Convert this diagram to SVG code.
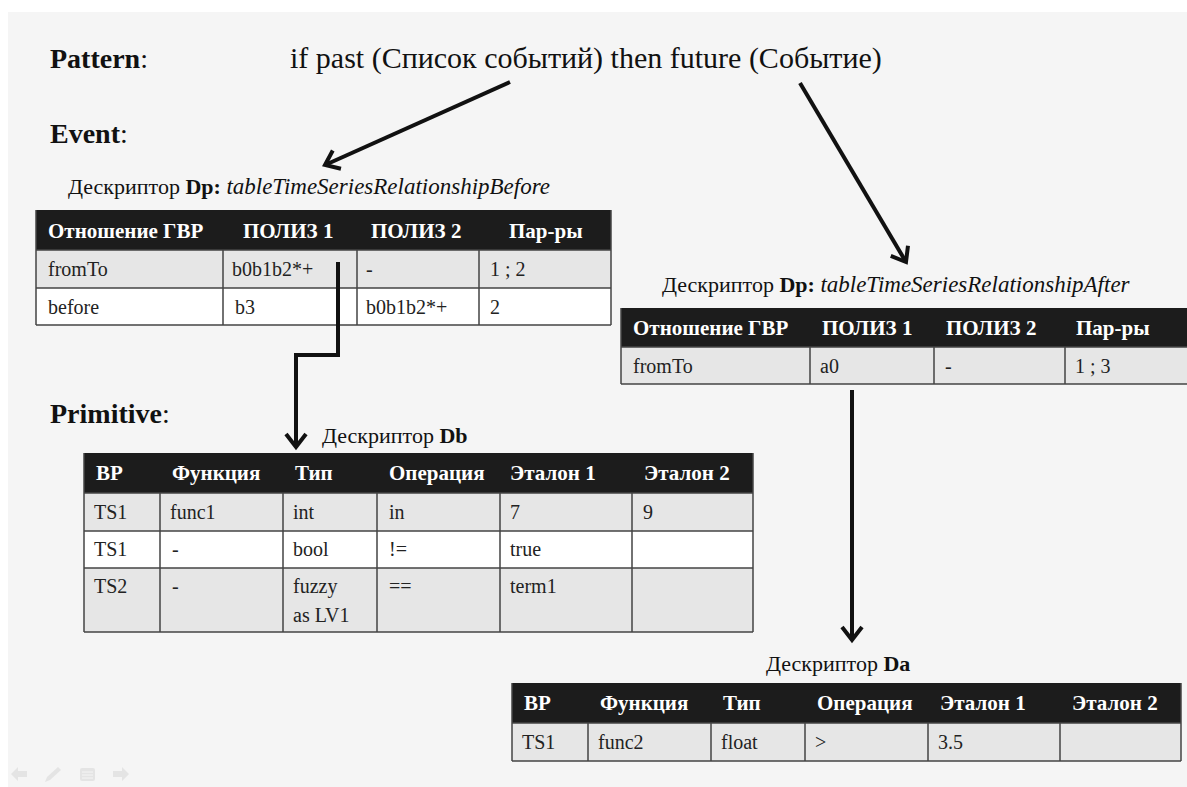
<svg xmlns="http://www.w3.org/2000/svg" width="1187" height="787" viewBox="0 0 1187 787">
  <defs>
    <style>
      text { font-family: "Liberation Serif", "Times New Roman", serif; fill: #111; }
      .title { font-size: 30px; }
      .label { font-size: 28px; }
      .desc { font-size: 22px; }
      .it { font-style: italic; font-size: 23px; }
      .th { font-size: 21px; font-weight: bold; fill: #fff; }
      .td { font-size: 20px; fill: #222; }
      .hdr { fill: #1c1c1c; }
      .gray { fill: #e6e6e6; }
      .white { fill: #ffffff; }
      .grid { stroke: #444; stroke-width: 1.5; fill: none; }
      .conn { stroke: #111; stroke-width: 4; fill: none; }
      .icon { fill: #e4e4e4; stroke: none; }
    </style>
    <marker id="chev" markerUnits="userSpaceOnUse" markerWidth="30" markerHeight="30" viewBox="-15 -15 30 30" refX="0" refY="0" orient="auto">
      <path d="M -13 -10 L 0 0 L -13 10" fill="none" stroke="#111" stroke-width="4"/>
    </marker>
  </defs>

  <!-- page background -->
  <rect x="0" y="0" width="1187" height="787" fill="#ffffff"/>
  <rect x="8" y="12" width="1179" height="775" fill="#f5f5f5"/>

  <!-- headings -->
  <g id="pattern">
    <text x="50" y="68" class="label"><tspan font-weight="bold">Pattern</tspan>:</text>
    <text x="290" y="68" class="title">if past (Список событий) then future (Событие)</text>
  </g>
  <g id="event-label">
    <text x="50" y="143" class="label"><tspan font-weight="bold">Event</tspan>:</text>
  </g>
  <g id="primitive-label">
    <text x="50" y="423" class="label"><tspan font-weight="bold">Primitive</tspan>:</text>
  </g>

  <!-- Dp before table -->
  <g id="dp-before">
    <text x="68" y="194" class="desc">Дескриптор <tspan font-weight="bold">Dp:</tspan> <tspan class="it">tableTimeSeriesRelationshipBefore</tspan></text>
    <rect x="36" y="210" width="575" height="40" class="hdr"/>
    <rect x="36" y="250" width="575" height="38" class="gray"/>
    <rect x="36" y="288" width="575" height="37" class="white"/>
    <path class="grid" d="M36 250 H611 M36 288 H611 M36 325 H611 M36 210 V325 M611 210 V325 M223 250 V325 M357 250 V325 M479 250 V325"/>
    <text x="48" y="238" class="th">Отношение ГВР</text>
    <text x="243" y="238" class="th">ПОЛИЗ 1</text>
    <text x="371" y="238" class="th">ПОЛИЗ 2</text>
    <text x="509" y="238" class="th">Пар-ры</text>
    <text x="48" y="276" class="td">fromTo</text>
    <text x="232" y="276" class="td">b0b1b2*+</text>
    <text x="366" y="276" class="td">-</text>
    <text x="490" y="276" class="td">1 ; 2</text>
    <text x="48" y="314" class="td">before</text>
    <text x="235" y="314" class="td">b3</text>
    <text x="366" y="314" class="td">b0b1b2*+</text>
    <text x="490" y="314" class="td">2</text>
  </g>

  <!-- Dp after table -->
  <g id="dp-after">
    <text x="662" y="292" class="desc">Дескриптор <tspan font-weight="bold">Dp:</tspan> <tspan class="it">tableTimeSeriesRelationshipAfter</tspan></text>
    <rect x="621" y="308" width="566" height="39" class="hdr"/>
    <rect x="621" y="347" width="566" height="37" class="gray"/>
    <path class="grid" d="M621 347 H1187 M621 384 H1187 M621 308 V384 M810 347 V384 M934 347 V384 M1065 347 V384"/>
    <text x="633" y="335" class="th">Отношение ГВР</text>
    <text x="822" y="335" class="th">ПОЛИЗ 1</text>
    <text x="946" y="335" class="th">ПОЛИЗ 2</text>
    <text x="1076" y="335" class="th">Пар-ры</text>
    <text x="633" y="373" class="td">fromTo</text>
    <text x="820" y="373" class="td">a0</text>
    <text x="945" y="373" class="td">-</text>
    <text x="1075" y="373" class="td">1 ; 3</text>
  </g>

  <!-- Db table -->
  <g id="db">
    <text x="322" y="443" class="desc">Дескриптор <tspan font-weight="bold">Db</tspan></text>
    <rect x="84" y="453" width="669" height="40" class="hdr"/>
    <rect x="84" y="493" width="669" height="38" class="gray"/>
    <rect x="84" y="531" width="669" height="37" class="white"/>
    <rect x="84" y="568" width="669" height="64" class="gray"/>
    <path class="grid" d="M84 493 H753 M84 531 H753 M84 568 H753 M84 632 H753 M84 453 V632 M753 453 V632 M160 493 V632 M283 493 V632 M377 493 V632 M500 493 V632 M632 493 V632"/>
    <text x="96" y="480" class="th">ВР</text>
    <text x="172" y="480" class="th">Функция</text>
    <text x="295" y="480" class="th">Тип</text>
    <text x="389" y="480" class="th">Операция</text>
    <text x="510" y="480" class="th">Эталон 1</text>
    <text x="644" y="480" class="th">Эталон 2</text>
    <text x="94" y="519" class="td">TS1</text>
    <text x="170" y="519" class="td">func1</text>
    <text x="293" y="519" class="td">int</text>
    <text x="389" y="519" class="td">in</text>
    <text x="510" y="519" class="td">7</text>
    <text x="643" y="519" class="td">9</text>
    <text x="94" y="556" class="td">TS1</text>
    <text x="172" y="556" class="td">-</text>
    <text x="293" y="556" class="td">bool</text>
    <text x="389" y="556" class="td">!=</text>
    <text x="510" y="556" class="td">true</text>
    <text x="94" y="593" class="td">TS2</text>
    <text x="172" y="593" class="td">-</text>
    <text x="293" y="593" class="td">fuzzy</text>
    <text x="293" y="622" class="td">as LV1</text>
    <text x="389" y="593" class="td">==</text>
    <text x="510" y="593" class="td">term1</text>
  </g>

  <!-- Da table -->
  <g id="da">
    <text x="766" y="671" class="desc">Дескриптор <tspan font-weight="bold">Da</tspan></text>
    <rect x="512" y="683" width="669" height="40" class="hdr"/>
    <rect x="512" y="723" width="669" height="38" class="gray"/>
    <path class="grid" d="M512 723 H1181 M512 761 H1181 M512 683 V761 M1181 683 V761 M588 723 V761 M711 723 V761 M805 723 V761 M928 723 V761 M1060 723 V761"/>
    <text x="524" y="710" class="th">ВР</text>
    <text x="600" y="710" class="th">Функция</text>
    <text x="723" y="710" class="th">Тип</text>
    <text x="817" y="710" class="th">Операция</text>
    <text x="940" y="710" class="th">Эталон 1</text>
    <text x="1072" y="710" class="th">Эталон 2</text>
    <text x="522" y="749" class="td">TS1</text>
    <text x="598" y="749" class="td">func2</text>
    <text x="721" y="749" class="td">float</text>
    <text x="815" y="749" class="td">&gt;</text>
    <text x="938" y="749" class="td">3.5</text>
  </g>

  <!-- connectors -->
  <g id="connectors">
    <line class="conn" x1="510" y1="82" x2="325" y2="165" marker-end="url(#chev)"/>
    <line class="conn" x1="800" y1="83" x2="906" y2="262" marker-end="url(#chev)"/>
    <polyline class="conn" points="338,262 338,355 296,355 296,447" marker-end="url(#chev)"/>
    <line class="conn" x1="852" y1="390" x2="852" y2="640" marker-end="url(#chev)"/>
  </g>

  <!-- slide navigation icons -->
  <g id="nav">
    <path class="icon" d="M11 774 L18 767 L18 771 L27 771 L27 777 L18 777 L18 781 Z"/>
    <path class="icon" d="M45 782 L47 777 L58 767 L61 770 L50 780 Z"/>
    <rect class="icon" x="80" y="768" width="15" height="13" rx="2"/>
    <path d="M82 772 H93 M82 775 H93 M82 778 H93" stroke="#f5f5f5" stroke-width="1"/>
    <path class="icon" d="M129 774 L122 767 L122 771 L113 771 L113 777 L122 777 L122 781 Z"/>
  </g>
</svg>
